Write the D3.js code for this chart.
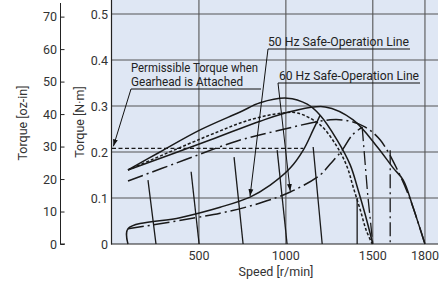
<!DOCTYPE html>
<html><head><meta charset="utf-8">
<script src="https://cdn.jsdelivr.net/npm/d3@7"></script>
<style>
html,body{margin:0;padding:0;background:#fff;}
text{font-family:"Liberation Sans Narrow","Arial Narrow","Roboto",sans-serif;}
</style></head>
<body><svg id="c" width="447" height="284"></svg>
<script>
// ---- data ----
const speedTicks = [500, 1000, 1500, 1800];
const nmTicks = [0, 0.1, 0.2, 0.3, 0.4, 0.5];
const ozTicks = [0, 10, 20, 30, 40, 50, 60, 70];
const OZ_TO_NM = 0.0070616;

// speed-torque curves [r/min, N·m]
const torque50 = [[92,0.161],[276,0.200],[507,0.248],[737,0.287],[852,0.307],[1007,0.317],[1123,0.304],[1197,0.280],[1295,0.226],[1370,0.172],[1416,0.117],[1457,0.063],[1500,0]];
const torque50b = [[92,0.161],[564,0.237],[794,0.270],[984,0.285],[1065,0.285],[1197,0.259],[1295,0.211],[1353,0.167],[1387,0.124],[1428,0.074],[1462,0.030],[1497,0]];
const torque60 = [[92,0.161],[564,0.226],[852,0.267],[1042,0.289],[1226,0.298],[1387,0.270],[1526,0.211],[1618,0.165],[1675,0.139],[1733,0.078],[1800,0]];
const torque60b = [[92,0.137],[420,0.183],[720,0.224],[950,0.246],[1255,0.270],[1370,0.267],[1457,0.254],[1543,0.226],[1647,0.157],[1716,0.096],[1800,0]];
const safe50 = [[92,0],[92,0.033],[391,0.057],[622,0.080],[794,0.102],[910,0.128],[1025,0.165],[1100,0.204],[1157,0.248],[1197,0.280]];
const safe60 = [[92,0.033],[622,0.067],[852,0.089],[1025,0.113],[1197,0.150],[1255,0.174],[1324,0.204],[1382,0.237],[1439,0.254]];
// steep speed-setting lines
const speedLines = [
  [[207,0.139],[253,0]],
  [[455,0.157],[501,0]],
  [[702,0.189],[754,0]],
  [[950,0.204],[1007,0]],
  [[1157,0.211],[1209,0]],
  [[1410,0.100],[1410,0]]
];
const speedLines60 = [
  [[1439,0.254],[1470,0.110],[1500,0]],
  [[1600,0.204],[1600,0]]
];
const permissible = [[0,0.208],[1100,0.208]];

// ---- chart ----
const svg = d3.select("#c");
const x = d3.scaleLinear().domain([0,1875]).range([112,438]);
const y = d3.scaleLinear().domain([0,0.5]).range([244,14]);
const yOz = d3.scaleLinear().domain([0,70]).range([y(0), y(70*OZ_TO_NM)]);

svg.append("defs").append("marker").attr("id","ah")
  .attr("viewBox","0 0 10 10").attr("refX",10).attr("refY",5)
  .attr("markerWidth",7).attr("markerHeight",7).attr("orient","auto")
  .attr("markerUnits","userSpaceOnUse")
  .append("path").attr("d","M0,1.5L10,5L0,8.5Z").attr("fill","#111");

svg.append("rect").attr("x",112).attr("y",0).attr("width",326).attr("height",244).attr("fill","#dfe7f4");

// grid
svg.append("g").selectAll("line").data(nmTicks.filter(d=>d>0)).join("line")
  .attr("x1",112).attr("x2",438).attr("y1",d=>y(d)).attr("y2",d=>y(d))
  .attr("stroke","#555").attr("stroke-width",1.1);
svg.append("g").selectAll("line").data(speedTicks).join("line")
  .attr("x1",d=>x(d)).attr("x2",d=>x(d)).attr("y1",0).attr("y2",244)
  .attr("stroke","#555").attr("stroke-width",1.1);

// frame
svg.append("line").attr("x1",111.5).attr("x2",111.5).attr("y1",0).attr("y2",244.5).attr("stroke","#222").attr("stroke-width",1.2);
svg.append("line").attr("x1",111).attr("x2",438).attr("y1",244).attr("y2",244).attr("stroke","#222").attr("stroke-width",1.2);

// N·m axis labels
svg.append("g").selectAll("text").data(nmTicks).join("text")
  .attr("x",108).attr("y",d=>y(d)+4.5).attr("text-anchor","end")
  .attr("font-size",12.5).attr("fill","#333").text(d=>d===0?"0":d.toFixed(1));
// speed labels
svg.append("g").selectAll("text").data(speedTicks).join("text")
  .attr("x",d=>x(d)).attr("y",260).attr("text-anchor","middle")
  .attr("font-size",12.5).attr("fill","#333").text(d=>d);
// oz-in axis
const ozAxis = d3.axisRight(yOz).tickValues(ozTicks).tickSize(4).tickFormat("");
const og = svg.append("g").attr("transform","translate(60.5,0)").call(ozAxis);
og.select(".domain").remove();
og.selectAll(".tick line").attr("stroke","#222");
svg.append("line").attr("x1",60.5).attr("x2",60.5).attr("y1",3).attr("y2",244.5).attr("stroke","#222").attr("stroke-width",1);
svg.append("line").attr("x1",60).attr("x2",65).attr("y1",244).attr("y2",244).attr("stroke","#222");
svg.append("g").selectAll("text").data(ozTicks).join("text")
  .attr("x",57).attr("y",d=>yOz(d)+4.5).attr("text-anchor","end")
  .attr("font-size",12.5).attr("fill","#333").text(d=>d);

// titles
svg.append("text").attr("transform","translate(27,123) rotate(-90)").attr("text-anchor","middle")
  .attr("font-size",12.5).attr("fill","#333").text("Torque [oz-in]");
svg.append("text").attr("transform","translate(84,122) rotate(-90)").attr("text-anchor","middle")
  .attr("font-size",12.5).attr("fill","#333").text("Torque [N·m]");
svg.append("text").attr("x",276).attr("y",276).attr("text-anchor","middle")
  .attr("font-size",12.5).attr("fill","#333").text("Speed [r/min]");

// curves
const smooth = d3.line().x(d=>x(d[0])).y(d=>y(d[1])).curve(d3.curveCatmullRom.alpha(0.5));
const straight = d3.line().x(d=>x(d[0])).y(d=>y(d[1]));
const g = svg.append("g").attr("fill","none").attr("stroke","#1a1a1a");

g.append("path").attr("d",straight(permissible)).attr("stroke-width",1.3).attr("stroke-dasharray","4,2.5");
speedLines.forEach(l=>g.append("path").attr("d",straight(l)).attr("stroke-width",1.3));
speedLines60.forEach(l=>g.append("path").attr("d",straight(l)).attr("stroke-width",1.3).attr("stroke-dasharray","14,4,2,4"));
g.append("path").attr("d",smooth(torque50)).attr("stroke-width",1.5);
g.append("path").attr("d",smooth(torque50b)).attr("stroke-width",1.5).attr("stroke-dasharray","3,2");
g.append("path").attr("d",smooth(torque60)).attr("stroke-width",1.5);
g.append("path").attr("d",smooth(torque60b)).attr("stroke-width",1.5).attr("stroke-dasharray","16,4,2,4");
g.append("path").attr("d",smooth(safe50)).attr("stroke-width",1.5);
g.append("path").attr("d",smooth(safe60)).attr("stroke-width",1.5).attr("stroke-dasharray","16,4,2,4");

// annotations
const ann = svg.append("g").attr("fill","#222").attr("font-size",12);
ann.append("text").attr("x",131).attr("y",72).attr("textLength",127).attr("lengthAdjust","spacingAndGlyphs").text("Permissible Torque when");
ann.append("text").attr("x",131).attr("y",86).attr("textLength",112).attr("lengthAdjust","spacingAndGlyphs").text("Gearhead is Attached");
ann.append("text").attr("x",268).attr("y",46).attr("textLength",141).attr("lengthAdjust","spacingAndGlyphs").text("50 Hz Safe-Operation Line");
ann.append("text").attr("x",279).attr("y",80).attr("textLength",140).attr("lengthAdjust","spacingAndGlyphs").text("60 Hz Safe-Operation Line");
const al = svg.append("g").attr("stroke","#111").attr("stroke-width",1).attr("fill","none");
al.append("line").attr("x1",131).attr("y1",89).attr("x2",261).attr("y2",89);
al.append("line").attr("x1",131).attr("y1",89).attr("x2",x(8)).attr("y2",y(0.208)-2).attr("marker-end","url(#ah)");
al.append("line").attr("x1",268).attr("y1",49).attr("x2",410).attr("y2",49);
al.append("line").attr("x1",268).attr("y1",49).attr("x2",x(794)).attr("y2",y(0.102)-1).attr("marker-end","url(#ah)");
al.append("line").attr("x1",278).attr("y1",83).attr("x2",420).attr("y2",83);
al.append("line").attr("x1",278).attr("y1",83).attr("x2",x(1025)).attr("y2",y(0.113)-1).attr("marker-end","url(#ah)");
</script></body></html>
